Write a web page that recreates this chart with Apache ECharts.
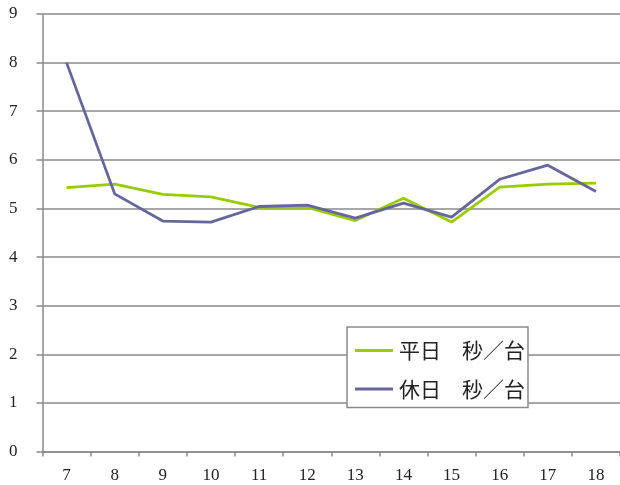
<!DOCTYPE html>
<html>
<head>
<meta charset="utf-8">
<script src="https://cdn.jsdelivr.net/npm/echarts@6/dist/echarts.min.js"></script>
<style>
  html, body { margin: 0; padding: 0; background: #ffffff; }
  #chart { width: 620px; height: 485px; }
</style>
</head>
<body>
<div id="chart"></div>
<script>
// Hour of day
const hours = ['7', '8', '9', '10', '11', '12', '13', '14', '15', '16', '17', '18'];
// Seconds per vehicle, weekdays
const weekday = [5.43, 5.50, 5.29, 5.24, 5.02, 5.02, 4.75, 5.21, 4.72, 5.44, 5.50, 5.52];
// Seconds per vehicle, holidays
const holiday = [8.00, 5.30, 4.74, 4.72, 5.04, 5.07, 4.80, 5.11, 4.82, 5.60, 5.89, 5.35];
const seriesNames = ['平日　秒／台', '休日　秒／台'];

const serifFont = '"Liberation Serif", "DejaVu Serif", "Noto Sans CJK JP", serif';
const gray = '#8a8a8a';

const chart = echarts.init(document.getElementById('chart'), null, { renderer: 'canvas' });
chart.setOption({
  animation: false,
  backgroundColor: '#ffffff',
  // plot area runs slightly past the right edge of the canvas
  grid: { left: 42.5, width: 581, top: 14, bottom: 33.5, containLabel: false },
  legend: {
    orient: 'vertical',
    left: 347,
    top: 327,
    padding: [13, 3, 8, 8],
    itemGap: 17.5,
    itemWidth: 38,
    itemHeight: 3,
    icon: 'rect',
    borderColor: '#8a8a8a',
    borderWidth: 1.5,
    backgroundColor: '#ffffff',
    textStyle: { fontFamily: '"Noto Sans CJK JP", sans-serif', fontSize: 21, color: '#222', padding: [0, 0, 0, 1] },
    data: seriesNames
  },
  xAxis: {
    type: 'category',
    data: hours,
    boundaryGap: true,
    axisLine: { lineStyle: { color: gray, width: 1.5 } },
    axisTick: { show: true, interval: 0, length: 5, lineStyle: { color: gray, width: 1.5 } },
    axisLabel: { interval: 0, margin: 16, fontFamily: serifFont, fontSize: 17, color: '#222' }
  },
  yAxis: {
    type: 'value',
    min: 0,
    max: 9,
    interval: 1,
    axisLine: { show: true, lineStyle: { color: gray, width: 1.5 } },
    axisTick: { show: true, length: 6, lineStyle: { color: gray, width: 1.5 } },
    axisLabel: { margin: 25, fontFamily: serifFont, fontSize: 17, color: '#222' },
    splitLine: { show: true, lineStyle: { color: gray, width: 1.5 } }
  },
  series: [
    {
      name: seriesNames[0],
      type: 'line',
      data: weekday,
      symbol: 'none',
      color: '#99cc00',
      lineStyle: { width: 2.8, color: '#99cc00' }
    },
    {
      name: seriesNames[1],
      type: 'line',
      data: holiday,
      symbol: 'none',
      color: '#66669c',
      lineStyle: { width: 2.8, color: '#66669c' }
    }
  ]
});
</script>
</body>
</html>
